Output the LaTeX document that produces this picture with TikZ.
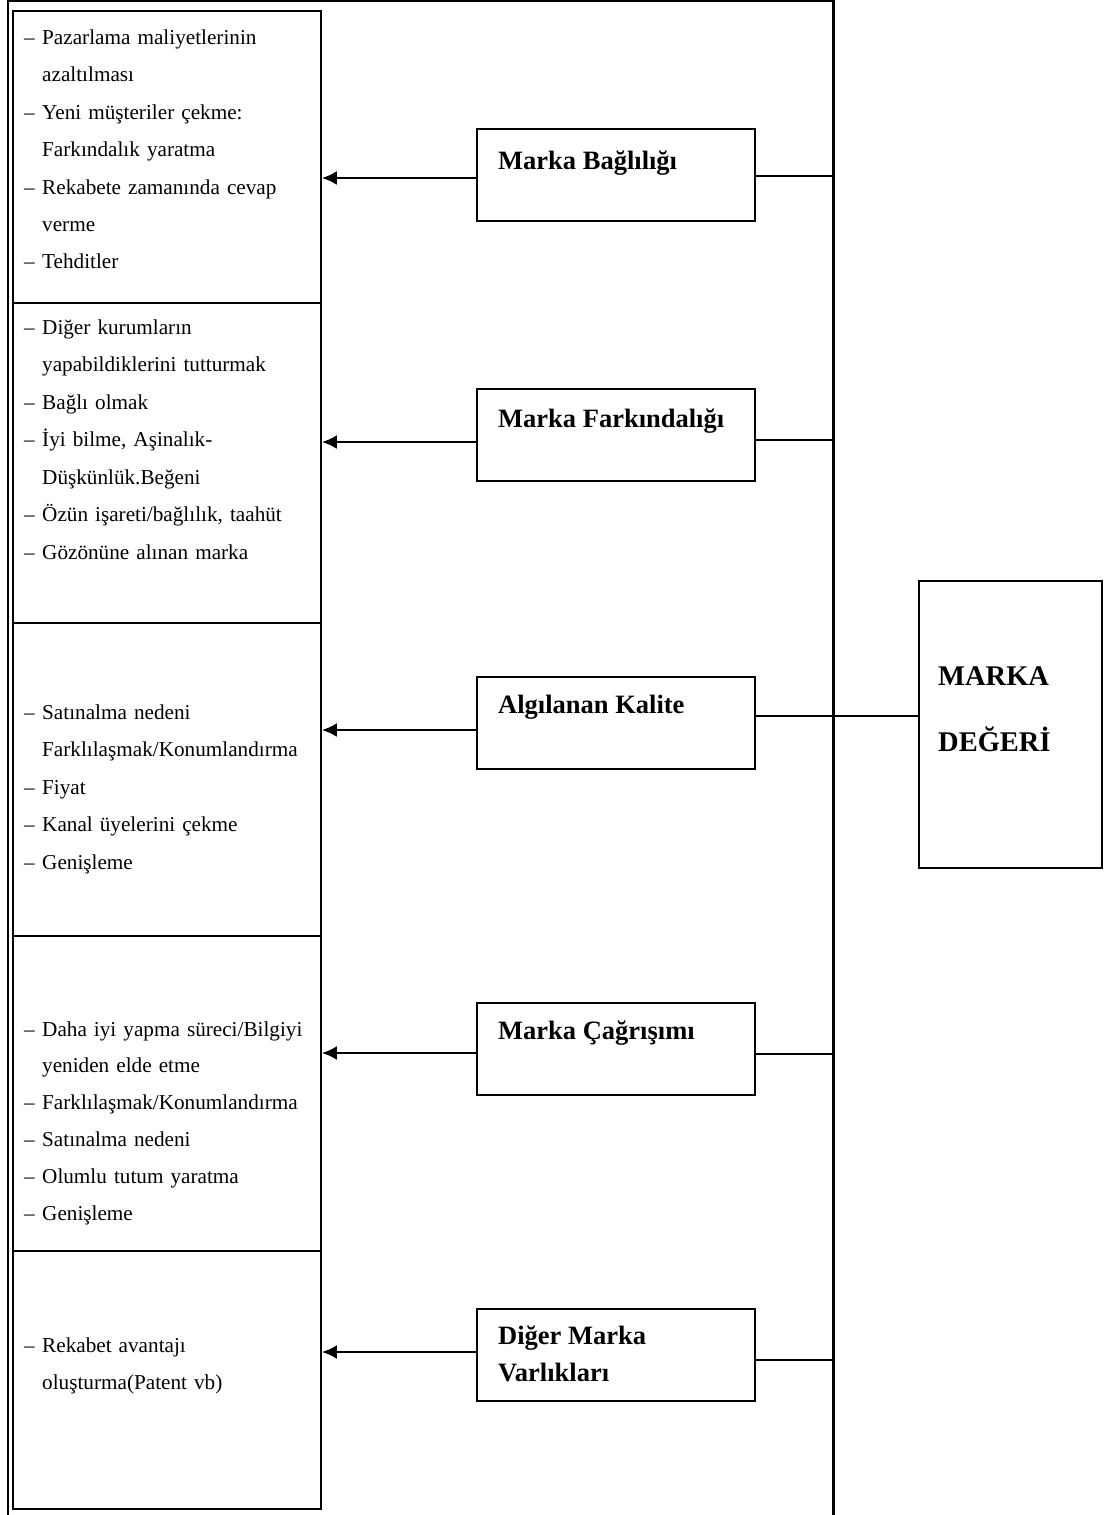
\documentclass[tikz,border=0pt]{standalone}
\usepackage{fontspec}
\setmainfont{Liberation Serif}
\usetikzlibrary{arrows.meta,calc}
\tikzset{
  frame/.style={line width=2.2pt},
  colbox/.style={draw, line width=1.8pt, rectangle, inner sep=0pt, anchor=north west, minimum width=308pt},
  itembox/.style={draw, line width=1.8pt, rectangle, inner sep=0pt, anchor=north west, minimum width=278pt, minimum height=92pt},
  listtext/.style={anchor=base west, inner sep=0pt, text width=292pt, align=left, font=\fontsize{21.2}{37.5}\selectfont},
  labeltext/.style={anchor=base west, inner sep=0pt, align=left, font=\fontsize{26.5}{37}\selectfont\bfseries},
  arr/.style={line width=2.6pt, -{Latex[length=15pt,width=14pt]}},
  link/.style={line width=1.4pt}
}
\newcommand{\itm}{\makebox[18pt][l]{–}}
\newcommand{\cnt}{\hspace*{18pt}}
\begin{document}
\begin{tikzpicture}[x=1pt,y=-1pt]
\useasboundingbox (0,0) rectangle (1103,1515);
% outer frame
\draw[frame] (8,1516) -- (8,1.2) -- (833.5,1.2) -- (833.5,1516);
% left column boxes
\node[colbox, minimum height=292pt] (c1) at (12,10) {};
\node[colbox, minimum height=320pt] (c2) at (12,302) {};
\node[colbox, minimum height=313pt] (c3) at (12,622) {};
\node[colbox, minimum height=315pt] (c4) at (12,935) {};
\node[colbox, minimum height=258pt] (c5) at (12,1250) {};
% list texts
\node[listtext] (t1) at (24,44) {\itm Pazarlama maliyetlerinin\\ \cnt azaltılması\\ \itm Yeni müşteriler çekme:\\ \cnt Farkındalık yaratma\\ \itm Rekabete zamanında cevap\\ \cnt verme\\ \itm Tehditler};
\node[listtext] (t2) at (24,334) {\itm Diğer kurumların\\ \cnt yapabildiklerini tutturmak\\ \itm Bağlı olmak\\ \itm İyi bilme, Aşinalık-\\ \cnt Düşkünlük.Beğeni\\ \itm Özün işareti/bağlılık, taahüt\\ \itm Gözönüne alınan marka};
\node[listtext] (t3) at (24,719) {\itm Satınalma nedeni\\ \cnt Farklılaşmak/Konumlandırma\\ \itm Fiyat\\ \itm Kanal üyelerini çekme\\ \itm Genişleme};
\node[listtext, font=\fontsize{21.2}{36.9}\selectfont] (t4) at (24,1036) {\itm Daha iyi yapma süreci/Bilgiyi\\ \cnt yeniden elde etme\\ \itm Farklılaşmak/Konumlandırma\\ \itm Satınalma nedeni\\ \itm Olumlu tutum yaratma\\ \itm Genişleme};
\node[listtext] (t5) at (24,1352) {\itm Rekabet avantajı\\ \cnt oluşturma(Patent vb)};
% middle boxes
\node[itembox] (b1) at (476,128) {};
\node[itembox] (b2) at (476,388) {};
\node[itembox] (b3) at (476,676) {};
\node[itembox] (b4) at (476,1002) {};
\node[itembox] (b5) at (476,1308) {};
\node[labeltext] (l1) at (498,169) {Marka Bağlılığı};
\node[labeltext] (l2) at (498,427) {Marka Farkındalığı};
\node[labeltext] (l3) at (498,713) {Algılanan Kalite};
\node[labeltext] (l4) at (498,1039) {Marka Çağrışımı};
\node[labeltext] (l5) at (498,1381) {Diğer Marka\\Varlıkları};
% value box
\node[draw, line width=1.6pt, rectangle, inner sep=0pt, anchor=north west, minimum width=183pt, minimum height=287pt] (m) at (918,580) {};
\node[labeltext, font=\fontsize{28.5}{65.5}\selectfont\bfseries] (ml) at (938,751) {MARKA\\DEĞERİ};
% arrow levels
\coordinate (a1) at (0,178);
\coordinate (a2) at (0,442);
\coordinate (a3) at (0,730);
\coordinate (a4) at (0,1053);
\coordinate (a5) at (0,1352);
\draw[arr] (b1.west |- a1) -- (c1.east |- a1);
\draw[arr] (b2.west |- a2) -- (c2.east |- a2);
\draw[arr] (b3.west |- a3) -- (c3.east |- a3);
\draw[arr] (b4.west |- a4) -- (c4.east |- a4);
\draw[arr] (b5.west |- a5) -- (c5.east |- a5);
% right links
\coordinate (r1) at (833.5,176);
\coordinate (r2) at (833.5,440);
\coordinate (r3) at (833.5,716);
\coordinate (r4) at (833.5,1054);
\coordinate (r5) at (833.5,1360);
\draw[link] (b1.east |- r1) -- (r1);
\draw[link] (b2.east |- r2) -- (r2);
\draw[link] (b3.east |- r3) -- (m.west |- r3);
\draw[link] (b4.east |- r4) -- (r4);
\draw[link] (b5.east |- r5) -- (r5);
\end{tikzpicture}
\end{document}
